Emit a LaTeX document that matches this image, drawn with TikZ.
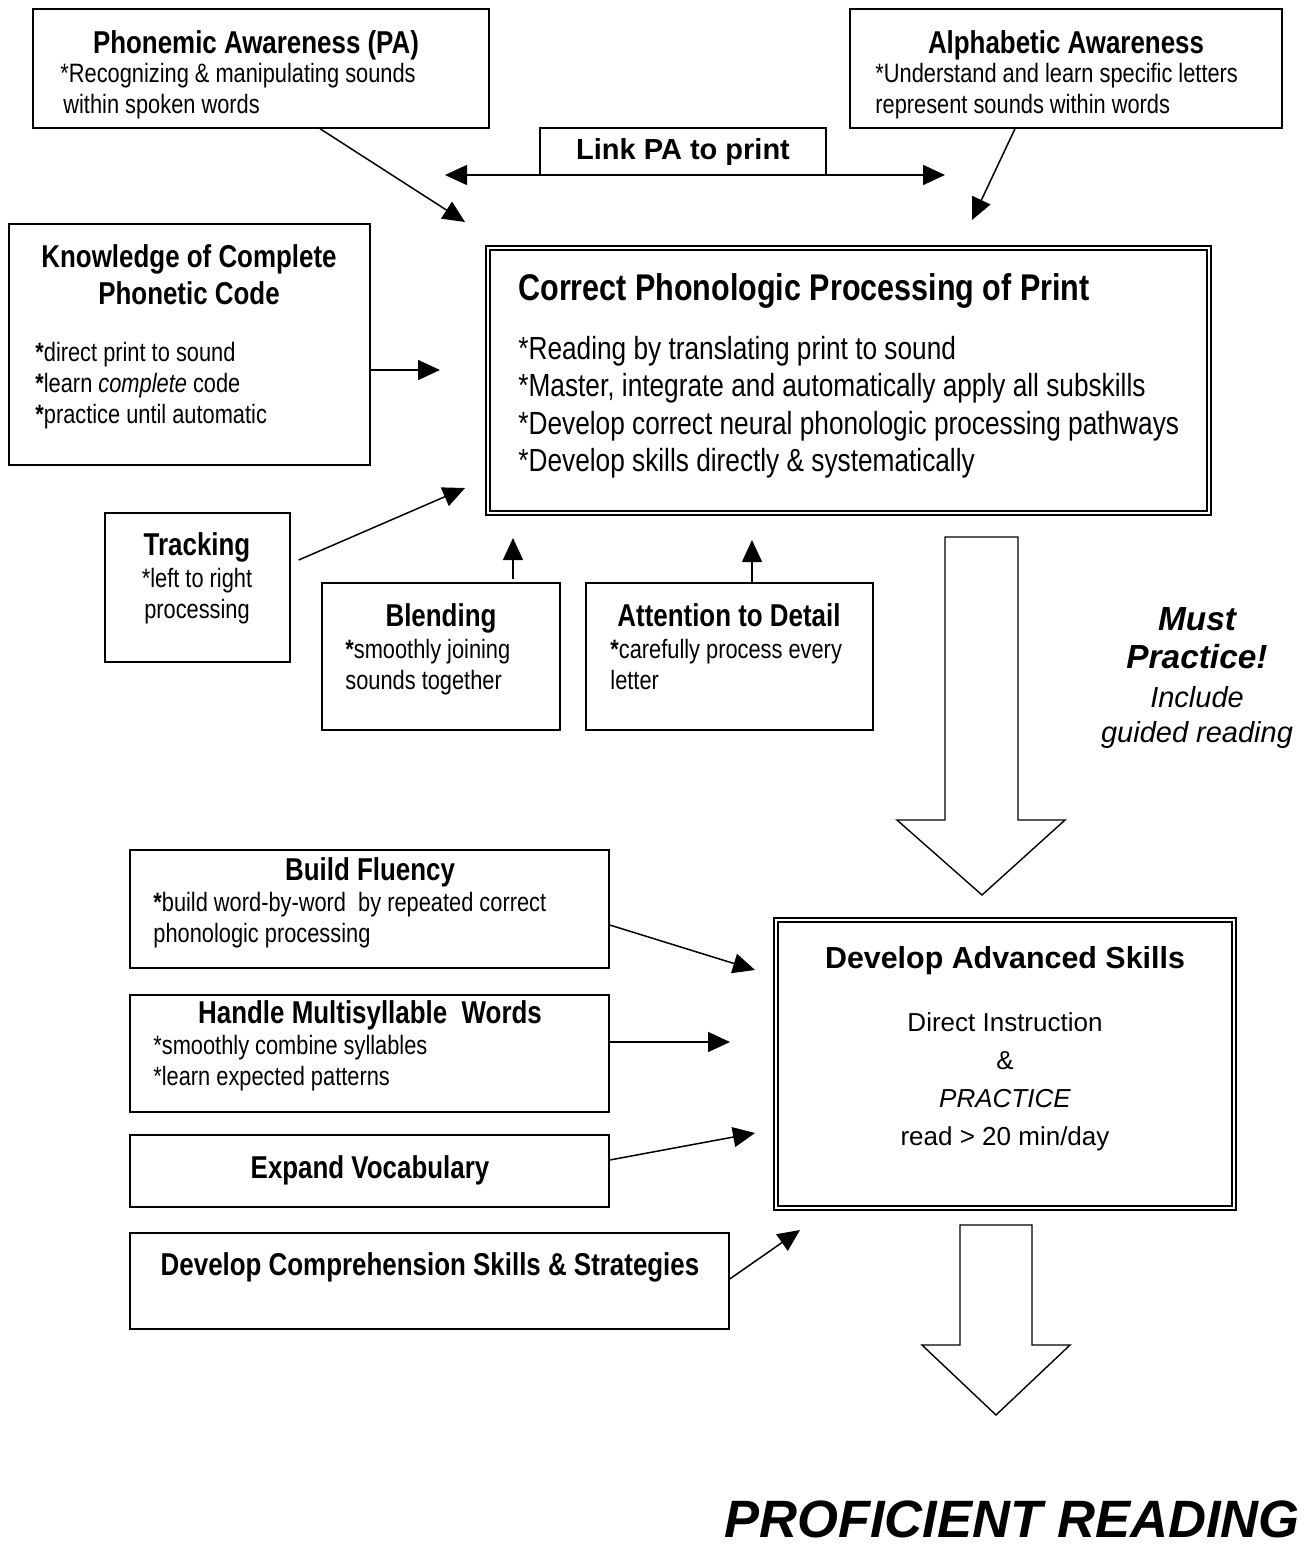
\documentclass[tikz,border=0pt]{standalone}
\usepackage{fontspec}
\setmainfont{Liberation Sans}
\newfontfamily\narrowfont[FakeStretch=0.82]{Liberation Sans}
\usepackage{tikz}
\usetikzlibrary{arrows.meta, fit, positioning}
\tikzset{
  box/.style={draw, line width=0.7pt, inner sep=0pt},
  dblbox/.style={draw, double, line width=0.9pt, double distance=1.4pt, inner sep=0pt},
  hdr/.style={anchor=base, inner sep=0pt, align=flush center, text width=230pt,
    font=\narrowfont\bfseries\fontsize{15.8}{18.6}\selectfont},
  txt/.style={anchor=base west, inner sep=0pt, align=flush left, text width=250pt,
    font=\narrowfont\fontsize{13.3}{15.5}\selectfont},
  bigtxt/.style={anchor=base west, inner sep=0pt, align=flush left, text width=350pt,
    font=\narrowfont\fontsize{16}{18.8}\selectfont},
  arrow/.style={-{Triangle[length=11pt,width=10pt]}, line width=0.75pt},
  twoarrow/.style={{Triangle[length=11pt,width=10pt]}-{Triangle[length=11pt,width=10pt]}, line width=0.75pt},
  blockarrow/.style={draw, line width=0.7pt, fill=white, line join=miter}
}
\begin{document}
\begin{tikzpicture}[x=0.5pt, y=-0.5pt]
  \useasboundingbox (0,0) rectangle (1305,1562);

  % Top row
  \node[box, fit={(33,9) (489,128)}] (pa) {};
  \node[hdr] (pahdr) at (256,54) {Phonemic Awareness (PA)};
  \node[txt] (patxt) at (60,83) {*Recognizing \& manipulating sounds\\{}\hspace{1.5pt}within spoken words};

  \node[box, fit={(850,9) (1282,128)}] (alph) {};
  \node[hdr] (alphhdr) at (1066,54) {Alphabetic Awareness};
  \node[txt] (alphtxt) at (875,83) {*Understand and learn specific letters\\{}represent sounds within words};

  \node[box, fit={(540,128) (826,175)}] (link) {};
  \node[anchor=base, inner sep=0pt, font=\bfseries\fontsize{14.5}{17}\selectfont] (linktxt) at (683,160) {Link PA to print};
  \coordinate (linkl) at (445,175);
  \coordinate (linkr) at (945,175);

  % Correct phonologic processing
  \node[dblbox, fit={(488,248) (1209,513)}] (cpp) {};
  \node[anchor=base west, inner sep=0pt, font=\narrowfont\bfseries\fontsize{18.6}{22}\selectfont] (cpphdr) at (518,300) {Correct Phonologic Processing of Print};
  \node[bigtxt] (cpptxt) at (518,359) {*Reading by translating print to sound\\{}*Master, integrate and automatically apply all subskills\\{}*Develop correct neural phonologic processing pathways\\{}*Develop skills directly \& systematically};

  % Subskills
  \node[box, fit={(9,224) (370,465)}] (know) {};
  \node[hdr] (knowhdr) at (189,267) {Knowledge of Complete\\Phonetic Code};
  \node[txt] (knowtxt) at (35,361) {\textbf{*}direct print to sound\\\textbf{*}learn \textit{complete} code\\\textbf{*}practice until automatic};

  \node[box, fit={(105,513) (290,662)}] (track) {};
  \node[hdr] (trackhdr) at (197,555) {Tracking};
  \node[anchor=base, inner sep=0pt, align=flush center, text width=90pt,
    font=\narrowfont\fontsize{13.3}{15.5}\selectfont] (tracktxt) at (197,587) {*left to right\\processing};

  \node[box, fit={(322,583) (560,730)}] (blend) {};
  \node[hdr] (blendhdr) at (441,626) {Blending};
  \node[txt] (blendtxt) at (345,658) {\textbf{*}smoothly joining\\sounds together};

  \node[box, fit={(586,583) (873,730)}] (att) {};
  \node[hdr] (atthdr) at (729,626) {Attention to Detail};
  \node[txt] (atttxt) at (610,658) {\textbf{*}carefully process every\\letter};

  % Arrow tips
  \coordinate (patip) at (465,222);
  \coordinate (alphtip) at (972,220);
  \coordinate (knowtip) at (440,370);
  \coordinate (tracktip) at (465,488);
  \coordinate (blendtip) at (513,538);
  \coordinate (atttip) at (752,540);

  \draw[twoarrow] (linkl) -- (linkr);
  \draw[arrow] ([xshift=29.5pt]pa.south) -- (patip);
  \draw[arrow] ([xshift=-25.5pt]alph.south) -- (alphtip);
  \draw[arrow] ([yshift=-12.75pt]know.east) -- (knowtip);
  \draw[arrow] ([xshift=4pt,yshift=13.75pt]track.east) -- (tracktip);
  \draw[arrow] ([xshift=36pt,yshift=1.5pt]blend.north) -- (blendtip);
  \draw[arrow] ([xshift=11.25pt]att.north) -- (atttip);

  % Practice arrow
  \draw[blockarrow] (945,537) -- (1018,537) -- (1018,820) -- (1065,820) -- (982,895)
    -- (897,820) -- (945,820) -- cycle;
  \node[anchor=base, inner sep=0pt, align=flush center, text width=100pt,
    font=\bfseries\itshape\fontsize{16.7}{19}\selectfont] (must) at (1197,630) {Must\\Practice!};
  \node[anchor=base, inner sep=0pt, align=flush center, text width=100pt,
    font=\itshape\fontsize{14.5}{17.5}\selectfont] (incl) at (1197,707) {Include\\guided reading};

  % Advanced skills
  \node[box, fit={(130,850) (609,968)}] (build) {};
  \node[hdr] (buildhdr) at (370,880) {Build Fluency};
  \node[txt] (buildtxt) at (153,911) {\textbf{*}build word-by-word\ \ by repeated correct\\phonologic processing};

  \node[box, fit={(130,995) (609,1112)}] (multi) {};
  \node[hdr] (multihdr) at (370,1023) {Handle Multisyllable\ \ Words};
  \node[txt] (multitxt) at (153,1054) {*smoothly combine syllables\\{}*learn expected patterns};

  \node[box, fit={(130,1135) (609,1207)}] (vocab) {};
  \node[hdr] (vocabhdr) at (370,1178) {Expand Vocabulary};

  \node[box, fit={(130,1233) (729,1329)}] (comp) {};
  \node[hdr, text width=300pt] (comphdr) at (430,1275) {Develop Comprehension Skills \& Strategies};

  \node[dblbox, fit={(776,920) (1234,1208)}] (adv) {};
  \node[anchor=base, inner sep=0pt, font=\bfseries\fontsize{15.2}{18}\selectfont] (advhdr) at (1005,968) {Develop Advanced Skills};
  \node[anchor=base, inner sep=0pt, align=flush center, text width=200pt,
    font=\fontsize{13}{19}\selectfont] (advtxt) at (1005,1031) {Direct Instruction\\\&\\\textit{PRACTICE}\\read > 20 min/day};

  \coordinate (buildtip) at (755,970);
  \coordinate (multitip) at (730,1042);
  \coordinate (vocabtip) at (755,1133);
  \coordinate (comptip) at (800,1230);

  \draw[arrow] ([yshift=-8pt]build.east) -- (buildtip);
  \draw[arrow] ([yshift=5.75pt]multi.east) -- (multitip);
  \draw[arrow] ([yshift=5.5pt]vocab.east) -- (vocabtip);
  \draw[arrow] ([yshift=1pt]comp.east) -- (comptip);

  % Result
  \draw[blockarrow] (960,1225) -- (1032,1225) -- (1032,1345) -- (1070,1345) -- (996,1415)
    -- (922,1345) -- (960,1345) -- cycle;
  \node[anchor=base, inner sep=0pt, font=\bfseries\itshape\fontsize{26.3}{30}\selectfont] (goal) at (1012,1537) {PROFICIENT READING};
\end{tikzpicture}
\end{document}
